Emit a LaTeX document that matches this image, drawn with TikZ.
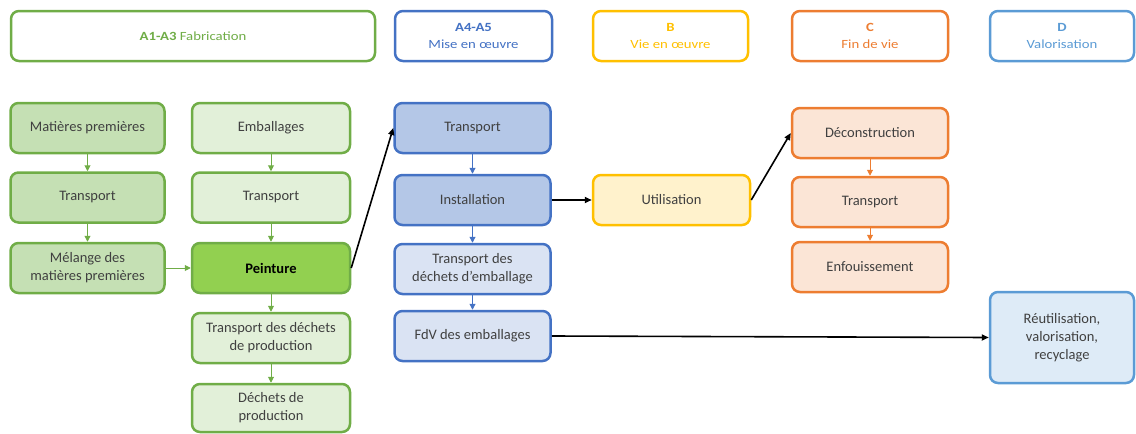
\documentclass[tikz,border=0pt]{standalone}
\usepackage{fontspec}
\setmainfont{Carlito}
\newfontfamily\hdrfont[FakeStretch=1.18]{Carlito}
\usepackage{tikz}
\usetikzlibrary{arrows.meta}
\definecolor{grnline}{HTML}{70AD47}
\definecolor{grndark}{HTML}{C5E0B4}
\definecolor{grnlight}{HTML}{E2F0D9}
\definecolor{grnpaint}{HTML}{92D050}
\definecolor{bluline}{HTML}{4472C4}
\definecolor{bludark}{HTML}{B4C7E7}
\definecolor{blulight}{HTML}{DAE3F3}
\definecolor{yelline}{HTML}{FFC000}
\definecolor{yelfill}{HTML}{FFF2CC}
\definecolor{orgline}{HTML}{ED7D31}
\definecolor{orgfill}{HTML}{FBE5D6}
\definecolor{valline}{HTML}{5B9BD5}
\definecolor{valfill}{HTML}{DEEBF7}
\definecolor{txtgray}{HTML}{404040}

\begin{document}
\begin{tikzpicture}[x=1pt,y=-1pt,
  box/.style n args={4}{draw=#1,fill=#2,line width=2.5pt,rounded corners=8pt,
     minimum width=#3pt,minimum height=#4pt,align=center,inner sep=1pt,
     text=txtgray,font=\fontsize{14.5}{18}\selectfont},
  hdr/.style n args={2}{draw=#1,fill=white,line width=2.5pt,rounded corners=8pt,
     minimum width=#2pt,minimum height=50pt,align=center,inner sep=1pt,
     text=#1,font=\hdrfont\fontsize{12.5}{17}\selectfont},
  thin/.style={draw=#1,line width=1pt,-{Triangle[length=6pt,width=6pt]}},
  thick/.style={draw=black,line width=1.6pt,-{Triangle[length=7pt,width=6pt]}}]
\useasboundingbox (0,0) rectangle (1136,434);

% headers
\node[hdr={grnline}{364}] (hA) at (193,36) {\textbf{A1-A3} Fabrication};
\node[hdr={bluline}{157}] (hB) at (473.5,36) {\textbf{A4-A5}\\Mise en œuvre};
\node[hdr={yelline}{155}] (hC) at (670.5,36) {\textbf{B}\\Vie en œuvre};
\node[hdr={orgline}{156}] (hD) at (870,36) {\textbf{C}\\Fin de vie};
\node[hdr={valline}{144}] (hE) at (1062,36) {\textbf{D}\\Valorisation};

% A1-A3
\node[box={grnline}{grndark}{154}{50}] (mat) at (87.5,128) {Matières premières};
\node[box={grnline}{grndark}{154}{50}] (trm) at (87.5,197.5) {Transport};
\node[box={grnline}{grndark}{154}{50}] (mel) at (87.5,268) {Mélange des\\matières premières};
\node[box={grnline}{grnlight}{158}{50}] (emb) at (271,128) {Emballages};
\node[box={grnline}{grnlight}{158}{50}] (tre) at (271,197.5) {Transport};
\node[box={grnline}{grnpaint}{158}{50},text=black] (pnt) at (271,268) {\textbf{Peinture}};
\node[box={grnline}{grnlight}{158}{50}] (tdp) at (271,338) {Transport des déchets\\de production};
\node[box={grnline}{grnlight}{158}{48}] (dep) at (271,408) {Déchets de\\production};

% A4-A5
\node[box={bluline}{bludark}{156}{50}] (trb) at (472.5,128) {Transport};
\node[box={bluline}{bludark}{156}{50}] (ins) at (472.5,200) {Installation};
\node[box={bluline}{blulight}{156}{50}] (tde) at (472.5,269) {Transport des\\déchets d’emballage};
\node[box={bluline}{blulight}{156}{50}] (fdv) at (472.5,336) {FdV des emballages};

% B
\node[box={yelline}{yelfill}{157}{50}] (uti) at (671.5,200) {Utilisation};

% C
\node[box={orgline}{orgfill}{156}{50}] (dec) at (870,133) {Déconstruction};
\node[box={orgline}{orgfill}{156}{50}] (tro) at (870,202) {Transport};
\node[box={orgline}{orgfill}{156}{50}] (enf) at (870,267) {Enfouissement};

% D
\node[box={valline}{valfill}{144}{91}] (reu) at (1062,337.5) {Réutilisation,\\valorisation,\\recyclage};

% arrows
\foreach \a/\b in {mat/trm,trm/mel,emb/tre,tre/pnt,pnt/tdp,tdp/dep,mel/pnt}
  \draw[thin=grnline] (\a) -- (\b);
\foreach \a/\b in {trb/ins,ins/tde,tde/fdv}
  \draw[thin=bluline] (\a) -- (\b);
\foreach \a/\b in {dec/tro,tro/enf}
  \draw[thin=orgline] (\a) -- (\b);
\draw[thick] (pnt.east) -- (trb.west);
\draw[thick] (ins) -- (uti);
\draw[thick] (uti.east) -- (dec.west);
\draw[thick] (fdv.east) -- (reu.west);
\end{tikzpicture}
\end{document}
